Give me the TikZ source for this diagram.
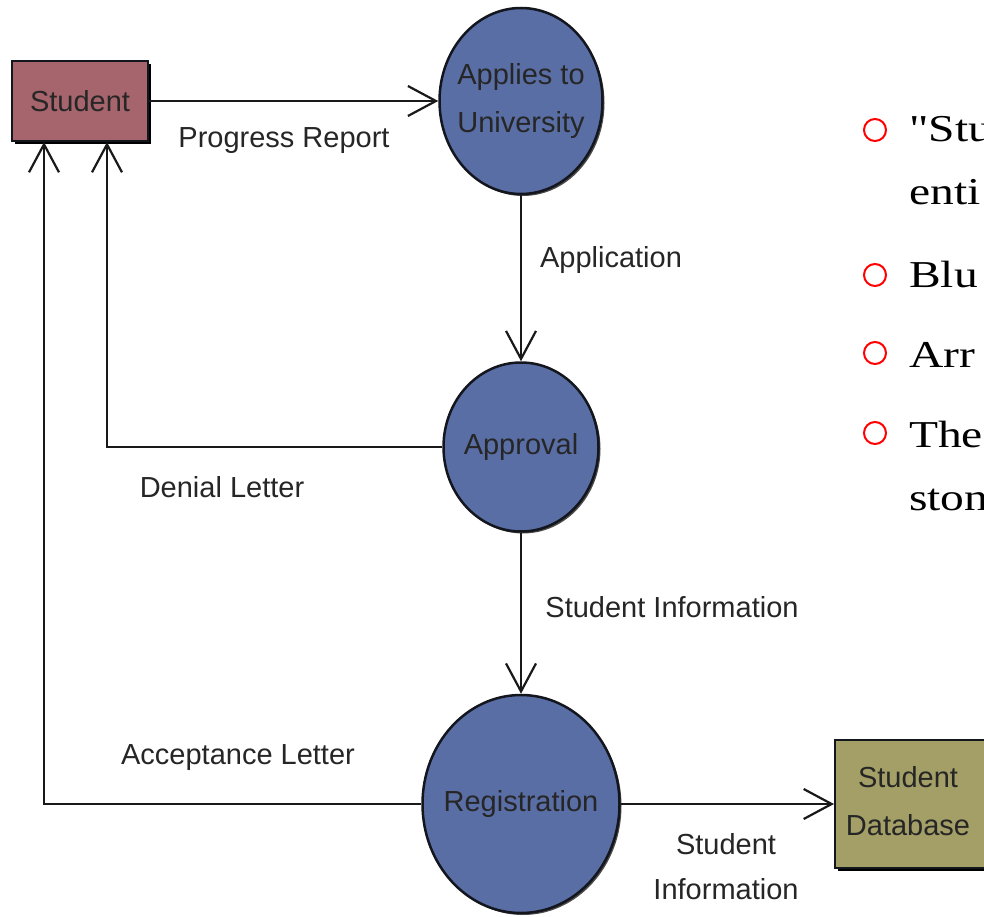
\documentclass[tikz,border=0pt]{standalone}
\usepackage{fontspec}
\setmainfont{Liberation Serif}
\newfontfamily\dfdfont{Liberation Sans}
\newfontfamily\bulletfont{Liberation Serif}
\usetikzlibrary{shapes.geometric,arrows.meta,shadows}
\definecolor{entred}{HTML}{A6646C}
\definecolor{procblue}{HTML}{5A6EA6}
\definecolor{storeolive}{HTML}{A39F66}
\definecolor{edgedark}{HTML}{14161E}
\begin{document}
\begin{tikzpicture}[x=1pt,y=-1pt,
  dfd/.style={font=\dfdfont\fontsize{29}{48}\selectfont, align=center, text=black!85},
  entity/.style={dfd, rectangle, draw=edgedark, line width=2pt, inner sep=0pt,
     drop shadow={shadow xshift=3pt, shadow yshift=-3pt, fill=black, opacity=1}},
  proc/.style={dfd, ellipse, draw=edgedark, line width=2.5pt, fill=procblue, inner sep=-60pt,
     drop shadow={shadow xshift=2pt, shadow yshift=-2pt, fill=black!70, opacity=1}},
  lbl/.style={font=\dfdfont\fontsize{29}{45}\selectfont, align=center, text=black!85, inner sep=0pt},
  flow/.style={draw=black!90, line width=2pt, -{Straight Barb[length=28pt,width=30pt,line width=2.2pt]}},
  bulletc/.style={circle, draw=red, line width=2pt, minimum size=22pt, inner sep=0pt},
  btxt/.style={font=\bulletfont\fontsize{38}{40}\selectfont, anchor=base west, inner sep=0pt}
]
\useasboundingbox (0,0) rectangle (984,917);
\fill[white] (0,0) rectangle (984,917);
\clip (0,0) rectangle (984,917);

% entities and processes
\node[entity, fill=entred, minimum width=136pt, minimum height=80pt] (student) at (80,101) {Student};
\node[proc, minimum width=163pt, minimum height=186pt] (apply) at (521,101) {Applies to\\University};
\node[proc, minimum width=155pt, minimum height=169pt] (approve) at (521,447) {Approval};
\node[proc, minimum width=197pt, minimum height=218pt] (reg) at (521,804) {Registration};
\node[entity, fill=storeolive, minimum width=200pt, minimum height=128pt] (db) at (935,804) {};
\node[dfd, inner sep=0pt] (dbtext) at (908,801) {Student\\Database};

% connector ends at the Student box
\coordinate (denialend) at ([xshift=27pt]student.south);
\coordinate (acceptend) at ([xshift=-36pt]student.south);

% flows
\draw[flow] (student.east) -- (apply.west);
\draw[flow] (apply.south) -- (approve.north);
\draw[flow] (approve.south) -- (reg.north);
\draw[flow] (approve.west) -| (denialend);
\draw[flow] (reg.west) -| (acceptend);
\draw[flow] (reg.east) -- (db.west);

% flow labels
\node[lbl] (lprog) at (284,141) {Progress Report};
\node[lbl] (lappl) at (611,260) {Application};
\node[lbl] (ldeny) at (222,487) {Denial Letter};
\node[lbl] (lsinf) at (672,607) {Student Information};
\node[lbl] (lacc) at (238,758) {Acceptance Letter};
\node[lbl] (lsinf2) at (726,867) {Student\\Information};

% bullet list on the right
\node[bulletc] (b1) at (875,130) {};
\node[bulletc] (b2) at (875,275) {};
\node[bulletc] (b3) at (875,353) {};
\node[bulletc] (b4) at (875,433) {};
\node[btxt] (t1) at (909,142) {\scalebox{1.25}[1]{"Stu}};
\node[btxt] (t1b) at (909,205) {\scalebox{1.25}[1]{enti}};
\node[btxt] (t2) at (909,287) {\scalebox{1.25}[1]{Blu}};
\node[btxt] (t3) at (909,367) {\scalebox{1.25}[1]{Arr}};
\node[btxt] (t4) at (909,447) {\scalebox{1.25}[1]{The}};
\node[btxt] (t4b) at (909,510) {\scalebox{1.25}[1]{ston}};
\end{tikzpicture}
\end{document}
